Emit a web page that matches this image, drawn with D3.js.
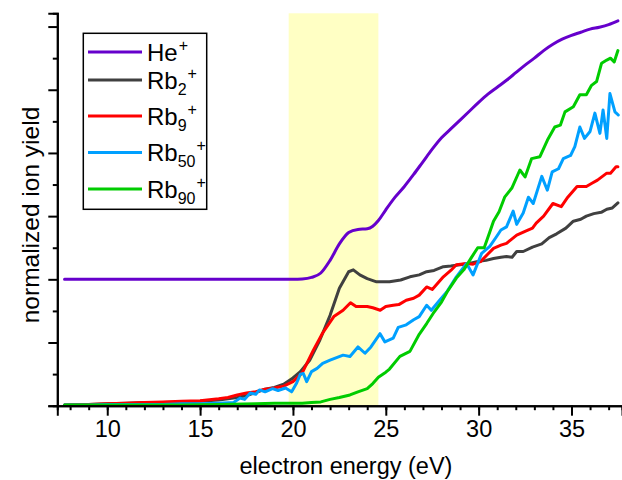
<!DOCTYPE html>
<html>
<head>
<meta charset="utf-8">
<script src="https://d3js.org/d3.v7.min.js"></script>
<style>
  body { margin: 0; background: #fff; }
  svg { display: block; font-family: "Liberation Sans", Arial, sans-serif; }
  .curve { fill: none; stroke-width: 3; stroke-linejoin: round; stroke-linecap: round; }
</style>
</head>
<body>
<div id="chart"></div>
<script>
// energy (eV), normalized yield
var heData = [[7.7,2.0],[20.0,2.0],[20.5,2.005],[21.0,2.03],[21.5,2.1],[22.0,2.3],[22.5,2.56],[23.0,2.74],
  [23.5,2.79],[24.0,2.8],[24.3,2.84],[24.6,2.93],[25.0,3.1],[25.5,3.3],[26.0,3.47],[26.5,3.66],[27.0,3.86],
  [27.5,4.06],[28.0,4.24],[28.5,4.38],[29.0,4.52],[29.5,4.66],[30.0,4.8],[30.5,4.93],[31.0,5.04],[31.5,5.15],
  [32.0,5.27],[32.5,5.39],[33.0,5.5],[33.5,5.62],[34.0,5.72],[34.5,5.8],[35.0,5.86],[35.5,5.91],[36.0,5.96],
  [36.5,5.99],[37.0,6.03],[37.5,6.09]];

var rb2Data = [[7.7,0.01],[9,0.02],[10,0.03],[11,0.04],[12,0.05],[13,0.05],[14,0.06],[15,0.07],[16,0.09],
  [17,0.13],[17.5,0.16],[18,0.21],[18.5,0.26],[19,0.29],[19.5,0.34],[20.0,0.44],[20.4,0.54],[20.9,0.72],
  [21.45,1.04],[22.0,1.43],[22.5,1.86],[23.0,2.12],[23.25,2.15],[23.6,2.07],[24.0,2.01],[24.5,1.96],
  [25.2,1.96],[25.8,1.99],[26.3,2.04],[26.8,2.07],[27.2,2.12],[27.6,2.14],[28.1,2.2],[28.5,2.21],[29.0,2.23],
  [29.5,2.25],[29.9,2.28],[30.4,2.3],[30.8,2.33],[31.2,2.35],[31.5,2.36],[31.8,2.35],[32.05,2.44],[32.4,2.44],
  [32.9,2.51],[33.4,2.56],[33.8,2.66],[34.2,2.72],[34.7,2.81],[35.1,2.92],[35.5,2.95],[35.8,3.0],[36.2,3.04],
  [36.6,3.06],[36.9,3.11],[37.2,3.13],[37.5,3.21]];

var rb9Data = [[7.7,0.01],[9,0.02],[10,0.03],[11,0.04],[12,0.05],[13,0.06],[14,0.07],[15,0.08],[16,0.11],
  [16.5,0.13],[17,0.17],[17.5,0.2],[18,0.22],[18.5,0.26],[19,0.28],[19.5,0.31],[20.0,0.38],[20.5,0.52],
  [21.1,0.88],[21.6,1.15],[22.2,1.41],[22.7,1.51],[23.1,1.63],[23.4,1.57],[24.0,1.57],[24.3,1.55],[24.7,1.51],
  [25.0,1.57],[25.4,1.59],[25.7,1.6],[26.1,1.67],[26.5,1.7],[26.8,1.75],[27.2,1.88],[27.5,1.84],[28.1,2.04],
  [28.5,2.14],[28.8,2.23],[29.35,2.25],[29.7,2.24],[30.1,2.28],[30.5,2.4],[30.8,2.49],[31.2,2.54],[31.5,2.57],
  [32.05,2.7],[32.5,2.76],[32.9,2.81],[33.1,2.89],[33.5,3.0],[34.0,3.2],[34.45,3.15],[34.8,3.3],[35.3,3.47],
  [35.8,3.47],[36.1,3.52],[36.4,3.57],[36.9,3.68],[37.1,3.68],[37.4,3.78],[37.5,3.78]];

var rb50Data = [[7.7,0.01],[9,0.01],[10,0.02],[11,0.02],[12,0.02],[13,0.02],[14,0.03],[15,0.03],[16,0.04],
  [16.8,0.05],[17.15,0.12],[17.4,0.1],[17.7,0.2],[18.0,0.18],[18.2,0.25],[18.5,0.22],[18.9,0.27],[19.2,0.24],
  [19.6,0.28],[19.93,0.22],[20.2,0.36],[20.4,0.5],[20.56,0.51],[20.74,0.38],[21.0,0.54],[21.3,0.59],[21.6,0.67],
  [22.0,0.72],[22.35,0.76],[22.7,0.8],[23.07,0.78],[23.5,0.93],[23.88,0.83],[24.2,0.93],[24.69,1.14],
  [24.95,1.01],[25.4,1.07],[25.67,1.24],[26.1,1.28],[26.5,1.36],[26.8,1.41],[27.2,1.59],[27.45,1.51],
  [27.9,1.67],[28.28,1.8],[28.8,2.04],[29.35,2.25],[29.7,2.07],[30.16,2.41],[30.6,2.52],[30.95,2.67],
  [31.2,2.78],[31.5,2.83],[31.86,3.08],[32.05,2.87],[32.4,3.05],[32.68,3.3],[32.94,3.2],[33.4,3.63],
  [33.7,3.41],[33.96,3.7],[34.3,3.75],[34.56,3.91],[34.95,3.96],[35.18,4.1],[35.45,4.41],[35.7,4.23],
  [36.0,4.34],[36.26,4.63],[36.53,4.31],[36.7,4.68],[36.9,4.23],[37.07,4.94],[37.34,4.65],[37.52,4.6]];

var rb90Data = [[7.7,0.01],[10,0.01],[12,0.01],[14,0.01],[16,0.02],[18,0.03],[19,0.04],[20,0.04],[20.5,0.04],
  [21,0.05],[21.5,0.06],[22,0.1],[22.5,0.13],[23.07,0.17],[23.5,0.22],[24,0.27],[24.3,0.35],[24.6,0.45],
  [25.0,0.53],[25.2,0.58],[25.76,0.78],[26.3,0.86],[26.8,1.13],[27.2,1.3],[27.55,1.46],[28.0,1.64],[28.3,1.8],
  [28.8,2.02],[29.2,2.15],[29.6,2.34],[29.95,2.5],[30.3,2.5],[30.6,2.75],[30.8,2.92],[31.1,3.07],[31.4,3.3],
  [31.8,3.45],[32.22,3.73],[32.5,3.62],[32.85,3.91],[33.3,3.94],[33.7,4.2],[34.1,4.41],[34.4,4.44],
  [34.65,4.65],[35.1,4.73],[35.45,4.92],[35.8,4.92],[36.08,5.07],[36.35,5.13],[36.62,5.42],[36.9,5.47],
  [37.1,5.5],[37.3,5.44],[37.5,5.62]];

var seriesNames = ['He', 'Rb', 'Rb', 'Rb', 'Rb'];
var seriesSubs = ['', '2', '9', '50', '90'];
var seriesColors = ['#6600cc', '#404040', '#ff0000', '#00a0ff', '#00cc00'];
var seriesData = [heData, rb2Data, rb9Data, rb50Data, rb90Data];
var band = [19.77, 24.6];          // shaded energy window
var xTicks = [10, 15, 20, 25, 30, 35];

var width = 622, height = 480;
var plotLeft = 57.3, plotRight = 622, plotTop = 13.3, plotBottom = 405.7;
var fontStack = '"Liberation Sans", Arial, sans-serif';

var svg = d3.select('#chart').append('svg')
  .attr('width', width)
  .attr('height', height);

var x = d3.scaleLinear().domain([7.31, 37.72]).range([plotLeft, plotRight]);
var y = d3.scaleLinear().domain([0, 6.21]).range([plotBottom, plotTop]);

// highlight band
svg.append('rect')
  .attr('x', x(band[0]))
  .attr('y', plotTop)
  .attr('width', x(band[1]) - x(band[0]))
  .attr('height', plotBottom - plotTop)
  .attr('fill', '#ffffc4');

// curves
var line = d3.line()
  .x(function(d) { return x(d[0]); })
  .y(function(d) { return y(d[1]); });

seriesData.forEach(function(data, i) {
  line.curve(i === 0 ? d3.curveMonotoneX : d3.curveLinear);
  svg.append('path')
    .attr('class', 'curve')
    .attr('stroke', seriesColors[i])
    .attr('d', line(data));
});

// x axis: minor every 1 eV, labelled majors every 5
var xAxisG = svg.append('g').attr('transform', 'translate(0,' + plotBottom + ')');
xAxisG.append('g').call(d3.axisBottom(x).tickValues(d3.range(8, 38, 1)).tickSize(4.5).tickFormat(''));
xAxisG.append('g').call(d3.axisBottom(x).tickValues(xTicks).tickSize(10).tickPadding(5));
xAxisG.selectAll('path.domain').attr('stroke-width', 2);
xAxisG.selectAll('.tick line').attr('stroke-width', 2);
xAxisG.selectAll('.tick text')
  .attr('font-size', 23.5)
  .attr('font-family', fontStack)
  .attr('fill', '#000');

// y axis: ticks only, no labels
var yAxisG = svg.append('g').attr('transform', 'translate(' + plotLeft + ',0)');
yAxisG.append('g').call(d3.axisLeft(y).tickValues(d3.range(0.5, 6.2, 1)).tickSize(4.5).tickFormat(''));
yAxisG.append('g').call(d3.axisLeft(y).tickValues(d3.range(0, 6.5, 1)).tickSize(9).tickFormat(''));
yAxisG.selectAll('path.domain').attr('stroke-width', 2);
yAxisG.selectAll('.tick line').attr('stroke-width', 2);

// axis titles
svg.append('text')
  .attr('x', 346)
  .attr('y', 474)
  .attr('text-anchor', 'middle')
  .attr('font-size', 23.5)
  .text('electron energy (eV)');

svg.append('text')
  .attr('transform', 'translate(39,215) rotate(-90)')
  .attr('text-anchor', 'middle')
  .attr('font-size', 24.5)
  .text('normalized ion yield');

// legend
var legendRowY = [52, 80, 116, 152.5, 189];
var legend = svg.append('g');
legend.append('rect')
  .attr('x', 83.3).attr('y', 33.3)
  .attr('width', 123.4).attr('height', 176)
  .attr('fill', '#fff').attr('stroke', '#000').attr('stroke-width', 1.5);

seriesNames.forEach(function(name, i) {
  var ry = legendRowY[i];
  legend.append('line')
    .attr('x1', 88).attr('x2', 142)
    .attr('y1', ry).attr('y2', ry)
    .attr('stroke', seriesColors[i]).attr('stroke-width', 3);
  var t = legend.append('text')
    .attr('x', 147).attr('y', ry + 8.5)
    .attr('font-size', 24);
  t.append('tspan').text(name);
  if (seriesSubs[i]) {
    t.append('tspan').attr('font-size', 16).attr('dy', 6).text(seriesSubs[i]);
    t.append('tspan').attr('font-size', 16).attr('dy', -16).attr('dx', 1).text('+');
  } else {
    t.append('tspan').attr('font-size', 16).attr('dy', -10).attr('dx', 1).text('+');
  }
});
</script>
</body>
</html>
